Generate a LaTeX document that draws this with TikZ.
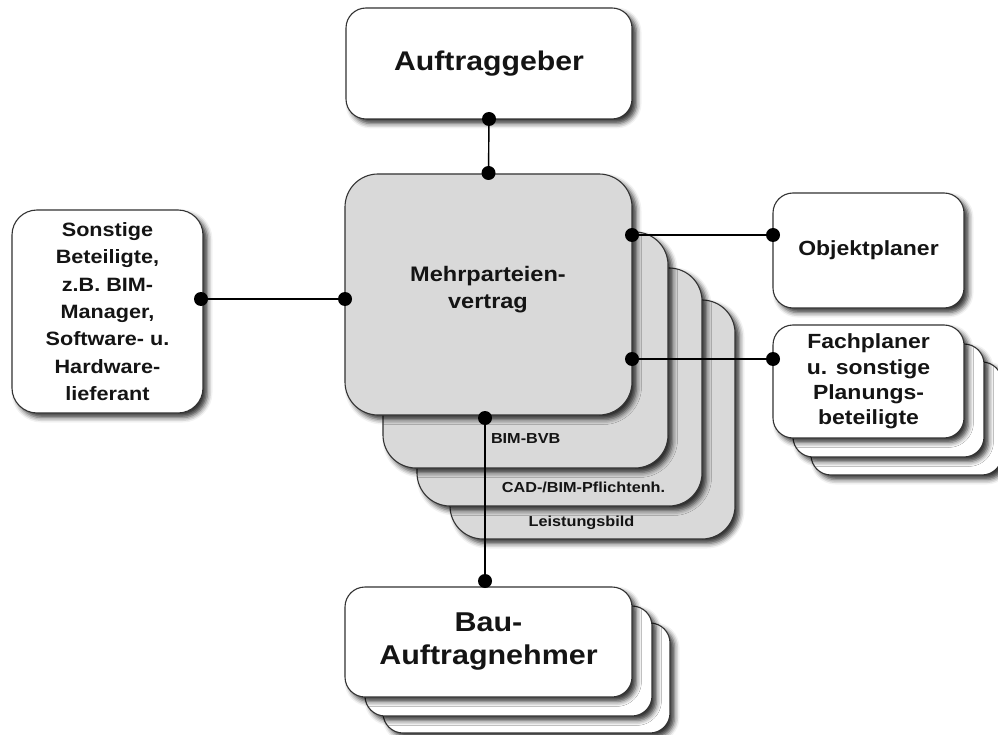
\documentclass[tikz,border=0pt]{standalone}
\usepackage{fontspec}
\setmainfont{Liberation Sans}[FakeStretch=1.12]
\usetikzlibrary{shadows.blur,calc}
\newcommand\fsz[2]{\fontsize{#1}{#2}\selectfont\bfseries}
\begin{document}
\begin{tikzpicture}[x=1pt,y=-1pt,
  wbox/.style={draw=black!80, line width=1.1pt, fill=white, rounded corners=20pt,
    inner sep=0pt, outer sep=0pt, align=center, text=black!92,
    blur shadow={shadow xshift=4.5pt, shadow yshift=-4.5pt, shadow blur radius=5pt, shadow opacity=80}},
  gbox/.style={wbox, fill=black!15, rounded corners=33pt},
  lbl/.style={inner sep=0pt, outer sep=0pt, text=black!92, font=\fsz{14.5}{17}},
  conn/.style={line width=1.4pt, black},
  dotc/.style={black}
]
\useasboundingbox (0,0) rectangle (998,735);

% central stack
\node[gbox, minimum width=285pt, minimum height=239pt] (l4) at (592.5,419.5) {};
\node[gbox, minimum width=285pt, minimum height=238pt] (l3) at (559.5,387) {};
\node[gbox, minimum width=285pt, minimum height=236pt] (l2) at (525.5,350) {};
\node[gbox, minimum width=287pt, minimum height=241pt] (mv) at (488.5,294.5) {};
\node[lbl, anchor=west] (t2) at (491,439) {BIM-BVB};
\node[lbl] (t3) at (583.5,487) {CAD-/BIM-Pflichtenh.};
\node[lbl] (t4) at (581.5,523) {Leistungsbild};
\node[inner sep=0pt, align=center, text=black!92, font=\fsz{21}{27}] (mvt) at (488,290) {Mehrparteien-\\vertrag};

% Auftraggeber
\node[wbox, minimum width=286pt, minimum height=111pt, font=\fsz{27}{32}] (ag) at (489,63.5) {Auftraggeber};

% Sonstige
\node[wbox, rounded corners=25pt, minimum width=191pt, minimum height=203pt, font=\fsz{19.3}{27.3}] (so) at (107.5,311.5)
  {Sonstige\\Beteiligte,\\z.B. BIM-\\Manager,\\Software- u.\\Hardware-\\lieferant};

% Objektplaner
\node[wbox, minimum width=191pt, minimum height=115pt, font=\fsz{20.5}{25}] (ob) at (868.5,250.5) {Objektplaner};

% Fachplaner stack
\node[wbox, minimum width=191pt, minimum height=113pt] (fp3) at (906.5,418.5) {};
\node[wbox, minimum width=191pt, minimum height=113pt] (fp2) at (888.5,400.5) {};
\node[wbox, minimum width=191pt, minimum height=113pt, font=\fsz{20.5}{25.3}] (fp) at (868.5,381.5)
  {Fachplaner\\u. sonstige\\Planungs-\\beteiligte};

% Bau-Auftragnehmer stack
\node[wbox, minimum width=287pt, minimum height=110pt] (bau3) at (526.5,678) {};
\node[wbox, minimum width=287pt, minimum height=110pt] (bau2) at (508.5,661) {};
\node[wbox, minimum width=287pt, minimum height=110pt, font=\fsz{27.2}{33}] (bau) at (488.5,642) {Bau-\\Auftragnehmer};

% connectors
\coordinate (pl) at ($(mv.west)+(0,4.5)$);
\coordinate (po) at ($(ob.west)+(0,-15.5)$);
\coordinate (pf) at ($(fp.west)+(0,-22.5)$);
\coordinate (pb) at ($(mv.south)+(-3.5,0)$);

\draw[conn] (ag.south) -- (mv.north);
\fill[dotc] (ag.south) circle (7pt) ($(mv.north)+(0,-1)$) circle (7pt);

\draw[conn] (so.east |- pl) -- (pl);
\fill[dotc] ($(so.east |- pl)+(-2,0)$) circle (7pt) (pl) circle (7pt);

\draw[conn] (mv.east |- po) -- (po);
\fill[dotc] (mv.east |- po) circle (7pt) (po) circle (7pt);

\draw[conn] (mv.east |- pf) -- (pf);
\fill[dotc] (mv.east |- pf) circle (7pt) (pf) circle (7pt);

\draw[conn] (pb) -- (bau.north -| pb);
\fill[dotc] ($(pb)+(0,3)$) circle (7pt) ($(bau.north -| pb)+(0,-6)$) circle (7pt);
\end{tikzpicture}
\end{document}
